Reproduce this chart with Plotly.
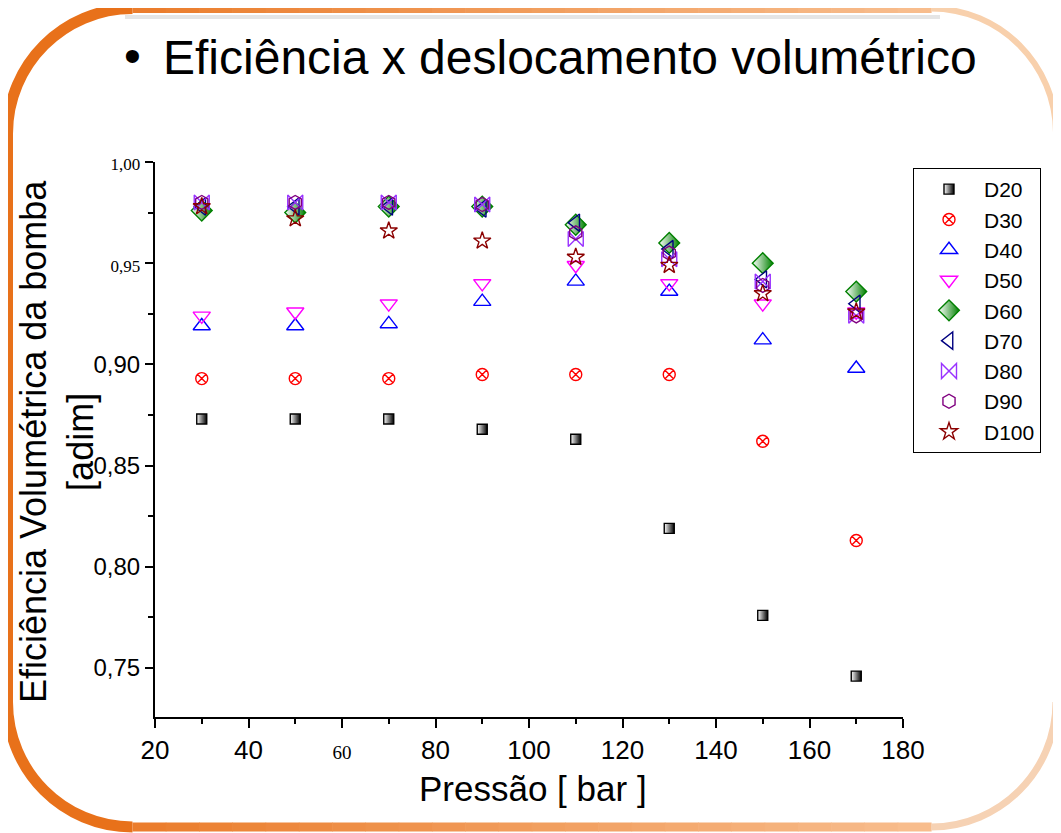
import plotly.graph_objects as go

# ---------------- data ----------------
pressao = [30, 50, 70, 90, 110, 130, 150, 170]

series_names = ["D20", "D30", "D40", "D50", "D60", "D70", "D80", "D90", "D100"]
d20 = [0.873, 0.873, 0.873, 0.868, 0.863, 0.819, 0.776, 0.746]
d30 = [0.893, 0.893, 0.893, 0.895, 0.895, 0.895, 0.862, 0.813]
d40 = [0.919, 0.919, 0.920, 0.931, 0.941, 0.936, 0.912, 0.898]
d50 = [0.924, 0.926, 0.930, 0.940, 0.949, 0.940, 0.930, 0.926]
d60 = [0.976, 0.975, 0.978, 0.978, 0.969, 0.960, 0.950, 0.936]
d70 = [0.978, 0.978, 0.978, 0.977, 0.970, 0.957, 0.942, 0.930]
d80 = [0.980, 0.980, 0.980, 0.979, 0.962, 0.952, 0.941, 0.924]
d90 = [0.980, 0.980, 0.980, 0.979, 0.965, 0.955, 0.939, 0.924]
d100 = [0.978, 0.972, 0.966, 0.961, 0.953, 0.949, 0.935, 0.926]
series_values = [d20, d30, d40, d50, d60, d70, d80, d90, d100]

x_tick_vals = [20, 40, 60, 80, 100, 120, 140, 160, 180]
x_tick_labels = ["20", "40", "60", "80", "100", "120", "140", "160", "180"]
y_tick_vals = [0.75, 0.80, 0.85, 0.90, 0.95, 1.00]
y_tick_labels = ["0,75", "0,80", "0,85", "0,90", "0,95", "1,00"]

title_text = "Eficiência x deslocamento volumétrico"
x_title = "Pressão [ bar ]"
y_title = "Eficiência Volumétrica da bomba<br>[adim]"

# ---------------- styles ----------------
styles = {
    "D20": dict(symbol="square", color="white", line="black", grad="black", size=10),
    "D30": dict(symbol="circle-x-open", color="#ff0000", line="#ff0000", grad=None, size=12),
    "D40": dict(symbol="triangle-up-open", color="#0000ff", line="#0000ff", grad=None, size=15),
    "D50": dict(symbol="triangle-down-open", color="#ff00ff", line="#ff00ff", grad=None, size=15),
    "D60": dict(symbol="diamond", color="white", line="#008000", grad="#008000", size=16),
    "D70": dict(symbol="triangle-left-open", color="#000080", line="#000080", grad=None, size=15),
    "D80": dict(symbol="bowtie-open", color="#9932ff", line="#9932ff", grad=None, size=15),
    "D90": dict(symbol="hexagon-open", color="#800080", line="#800080", grad=None, size=14),
    "D100": dict(symbol="star-open", color="#8b0000", line="#8b0000", grad=None, size=13),
}

# page offset of the plot div (browser default body margin)
OFF = 8
W, H = 1061 - OFF, 833 - OFF
# plot area in screen pixels
L, R, T, B = 155, 903, 162, 717


def px(p):
    return (p - L) / (R - L)


def py(p):
    return (B - p) / (B - T)


fig = go.Figure()
for name, vals in zip(series_names, series_values):
    s = styles[name]
    marker = dict(symbol=s["symbol"], size=s["size"], color=s["color"],
                  line=dict(color=s["line"], width=1.4))
    if s["grad"]:
        marker["gradient"] = dict(type="horizontal", color=s["grad"])
    fig.add_trace(go.Scatter(x=pressao, y=vals, mode="markers", name=name,
                             marker=marker))

# ---------------- frame (decoration) ----------------
def col(x):
    c0 = (232, 113, 26)
    c1 = (249, 196, 152)
    t = max(0.0, min(1.0, x / 1000.0))
    return "rgb(%d,%d,%d)" % tuple(round(a + (b - a) * t) for a, b in zip(c0, c1))


def P(x, y):
    return "%.5f,%.5f" % (px(x), py(y))


xl, xr, yt, yb, r = 7.5, 1056, 8.5, 827, 125
k = 0.5523 * r
shapes = []
lw = 9
path = ("M " + P(xl + r, yb) + " C " + P(xl + r - k, yb) + " " + P(xl, yb - r + k) + " " + P(xl, yb - r) +
        " L " + P(xl, yt + r) + " C " + P(xl, yt + r - k) + " " + P(xl + r - k, yt) + " " + P(xl + r, yt))
shapes.append(dict(type="path", path=path, xref="paper", yref="paper",
                   line=dict(color=col(0), width=lw + 2)))
n = 24
x0s, x1s = xl + r, xr - r
for i in range(n):
    a = x0s + (x1s - x0s) * i / n
    b = x0s + (x1s - x0s) * (i + 1) / n + 0.6
    c = col((a + b) / 2)
    for yy in (yt, yb):
        shapes.append(dict(type="line", xref="paper", yref="paper",
                           x0=px(a), x1=px(b), y0=py(yy), y1=py(yy),
                           line=dict(color=c, width=lw)))
path = "M " + P(xr - r, yt) + " C " + P(xr - r + k, yt) + " " + P(xr, yt + r - k) + " " + P(xr, yt + r)
shapes.append(dict(type="path", path=path, xref="paper", yref="paper",
                   line=dict(color="rgb(248,208,172)", width=lw - 3)))
shapes.append(dict(type="line", xref="paper", yref="paper", x0=px(xr), x1=px(xr),
                   y0=py(yt + r), y1=py(yb - r), line=dict(color="rgb(243,232,224)", width=lw - 4)))
path = "M " + P(xr, yb - r) + " C " + P(xr, yb - r + k) + " " + P(xr - r + k, yb) + " " + P(xr - r, yb)
shapes.append(dict(type="path", path=path, xref="paper", yref="paper",
                   line=dict(color="rgb(246,210,180)", width=lw - 2)))
shapes.append(dict(type="line", xref="paper", yref="paper", x0=px(125), x1=px(940),
                   y0=py(17), y1=py(17), line=dict(color="rgba(0,0,0,0.10)", width=4)))

# ---------------- tick texts with mixed fonts ----------------
serif_x = {"60"}
serif_y = {"1,00", "0,95"}
xt = [('<span style="font-family:\'Liberation Serif\',serif;font-size:19px">%s</span>' % t)
      if t in serif_x else t for t in x_tick_labels]
yt_txt = [('<span style="font-family:\'Liberation Serif\',serif;font-size:17px">%s</span>' % t)
          if t in serif_y else t for t in y_tick_labels]

FONT = "Arial, Liberation Sans"
annotations = [
    dict(text="•", x=px(132), y=py(56), xref="paper", yref="paper", showarrow=False,
         xanchor="center", yanchor="middle", font=dict(family=FONT, size=48, color="black")),
    dict(text=title_text, x=px(161), y=py(58), xref="paper", yref="paper", showarrow=False,
         xanchor="left", yanchor="middle", font=dict(family=FONT, size=48, color="black")),
    dict(text=x_title, x=px(533), y=py(788), xref="paper", yref="paper", showarrow=False,
         xanchor="center", yanchor="middle", font=dict(family=FONT, size=35, color="black")),
    dict(text=y_title, x=px(57), y=py(442), xref="paper", yref="paper", showarrow=False,
         textangle=-90, xanchor="center", yanchor="middle",
         font=dict(family=FONT, size=36, color="black")),
]

fig.update_layout(
    width=W, height=H,
    margin=dict(l=L - OFF, r=W - (R - OFF), t=T - OFF, b=H - (B - OFF), autoexpand=False),
    paper_bgcolor="white", plot_bgcolor="white",
    shapes=shapes, annotations=annotations,
    showlegend=True,
    legend=dict(xref="container", yref="container", x=(913 - OFF) / W, y=1 - (168 - OFF) / H,
                xanchor="left", yanchor="top", bgcolor="white",
                bordercolor="black", borderwidth=1, itemwidth=60,
                entrywidth=80, entrywidthmode="pixels",
                font=dict(family=FONT, size=21, color="black")),
    xaxis=dict(range=[20, 180], showgrid=False, zeroline=False, showline=True,
               linecolor="black", linewidth=2, ticks="outside", ticklen=9, tickwidth=2,
               tickcolor="black", tickvals=x_tick_vals, ticktext=xt,
               tickfont=dict(family="Liberation Sans Narrow, Arial Narrow, " + FONT, size=26, color="black"),
               minor=dict(tickvals=[30, 50, 70, 90, 110, 130, 150, 170], ticks="outside",
                          ticklen=5, tickwidth=2, tickcolor="black")),
    yaxis=dict(range=[0.7258, 1.0], showgrid=False, zeroline=False, showline=True,
               linecolor="black", linewidth=2, ticks="outside", ticklen=8, tickwidth=2,
               tickcolor="black", tickvals=y_tick_vals, ticktext=yt_txt,
               tickfont=dict(family=FONT, size=24, color="black"),
               minor=dict(tickvals=[0.775, 0.825, 0.875, 0.925, 0.975], ticks="outside",
                          ticklen=5, tickwidth=2, tickcolor="black")),
)

fig.write_html("out.html")
